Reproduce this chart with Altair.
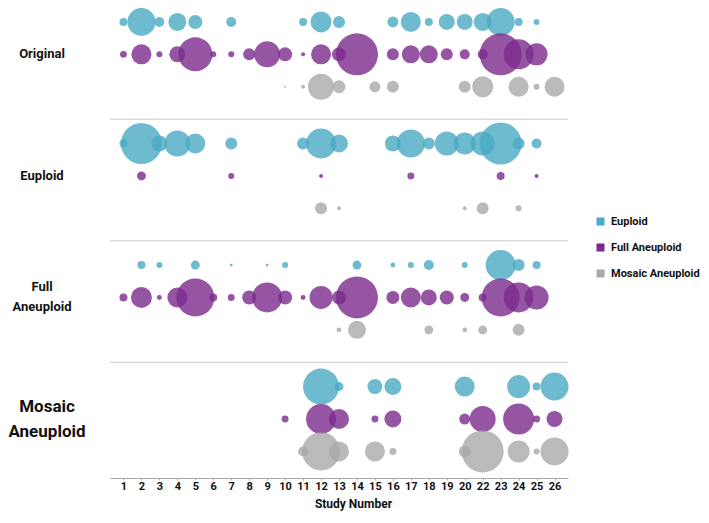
import altair as alt
import pandas as pd

study_labels = ["1", "2", "3", "4", "5", "6", "7", "8", "9", "10", "11", "12", "13",
                "14", "15", "16", "17", "18", "19", "20", "22", "23", "24", "25", "26"]
groups = ["Original", "Euploid", "Full Aneuploid", "Mosaic Aneuploid"]
group_text = ["Original", "Euploid", "Full\nAneuploid", "Mosaic\nAneuploid"]
series = ["Euploid", "Full Aneuploid", "Mosaic Aneuploid"]
colors = ["#4aaac4", "#7a2a8c", "#a9a9a9"]

# bubble magnitudes per study (aligned with study_labels), 0 = no bubble
orig_eu = [16, 196, 25, 81, 49, 0, 25, 0, 0, 0, 16, 110, 36, 0, 0, 30, 100, 16, 64, 64, 81, 196, 16, 9, 0]
orig_fa = [12, 100, 9, 64, 289, 9, 9, 36, 169, 49, 4, 100, 49, 441, 0, 36, 81, 81, 36, 25, 25, 441, 225, 121, 0]
orig_mo = [0, 0, 0, 0, 0, 0, 0, 0, 0, 1, 4, 169, 42, 0, 30, 36, 0, 0, 0, 36, 110, 0, 100, 9, 100]
eu_eu = [16, 420, 64, 169, 100, 0, 36, 0, 0, 0, 36, 225, 81, 0, 0, 64, 196, 36, 144, 121, 144, 441, 36, 25, 0]
eu_fa = [0, 20, 0, 0, 0, 0, 9, 0, 0, 0, 0, 4, 0, 0, 0, 0, 12, 0, 0, 0, 0, 16, 0, 4, 0]
eu_mo = [0, 0, 0, 0, 0, 0, 0, 0, 0, 0, 0, 36, 4, 0, 0, 0, 0, 0, 0, 4, 36, 0, 9, 0, 0]
fa_eu = [0, 16, 9, 0, 20, 0, 2, 0, 2, 9, 0, 0, 0, 20, 0, 6, 9, 25, 0, 9, 0, 225, 36, 16, 0]
fa_fa = [16, 110, 6, 100, 361, 16, 12, 49, 225, 49, 6, 132, 49, 441, 0, 42, 100, 64, 49, 20, 16, 361, 225, 144, 0]
fa_mo = [0, 0, 0, 0, 0, 0, 0, 0, 0, 0, 0, 0, 6, 81, 0, 0, 0, 20, 0, 6, 20, 0, 36, 0, 0]
mo_eu = [0, 0, 0, 0, 0, 0, 0, 0, 0, 0, 0, 324, 20, 0, 56, 72, 0, 0, 0, 100, 0, 0, 132, 16, 196]
mo_fa = [0, 0, 0, 0, 0, 0, 0, 0, 0, 12, 0, 225, 100, 0, 12, 72, 0, 0, 0, 30, 169, 0, 240, 12, 64]
mo_mo = [0, 0, 0, 0, 0, 0, 0, 0, 0, 0, 25, 361, 100, 0, 100, 12, 0, 0, 0, 36, 441, 0, 121, 9, 196]

table = [
    [orig_eu, orig_fa, orig_mo],
    [eu_eu, eu_fa, eu_mo],
    [fa_eu, fa_fa, fa_mo],
    [mo_eu, mo_fa, mo_mo],
]

GAP = 3.75  # row units per group
rows = []
for g, grp in enumerate(groups):
    for k, ser in enumerate(series):
        for lab, v in zip(study_labels, table[g][k]):
            if v > 0:
                rows.append({"group": grp, "series": ser, "study": lab,
                             "value": v, "u": g * GAP + k})
df = pd.DataFrame(rows)

label_df = pd.DataFrame({"label": group_text,
                         "u": [g * GAP + 1 for g in range(len(groups))],
                         "idx": list(range(len(groups)))})
sep_df = pd.DataFrame({"u": [g * GAP - 0.75 for g in range(1, len(groups))]})

FONT = "Roboto"
W, H = 458, 470
yscale = alt.Scale(domain=[-0.43, 14.07], reverse=True, nice=False, zero=False)

bubbles = alt.Chart(df).mark_circle(opacity=0.8, stroke=None).encode(
    x=alt.X("study:O", sort=study_labels,
            scale=alt.Scale(type="point", domain=study_labels, padding=0.75),
            axis=alt.Axis(title="Study Number", labelAngle=0, labelFont=FONT,
                          labelFontSize=11, labelFontWeight="bold", labelColor="#111",
                          labelPadding=0, tickSize=2, tickColor="#aaa",
                          domainColor="#aaa", domainWidth=1,
                          titleFont=FONT, titleFontSize=12, titleFontWeight="bold",
                          titleColor="#111", titleX=243, titleY=25,
                          titleBaseline="middle", titleAlign="center", grid=False)),
    y=alt.Y("u:Q", scale=yscale, axis=None),
    size=alt.Size("value:Q", scale=alt.Scale(domain=[0, 441], range=[0, 1764]), legend=None),
    color=alt.Color("series:N", scale=alt.Scale(domain=series, range=colors),
                    legend=alt.Legend(title=None, orient="none", legendX=485, legendY=208,
                                      symbolType="square", symbolSize=64, symbolOpacity=1,
                                      symbolStrokeWidth=0,
                                      labelFont=FONT, labelFontSize=11, labelFontWeight="bold",
                                      labelColor="#111", labelOffset=5, rowPadding=14,
                                      labelLimit=200, padding=0)),
)

seps = alt.Chart(sep_df).mark_rule(color="#dcdcdc", strokeWidth=1.5).encode(
    y=alt.Y("u:Q", scale=yscale, axis=None),
    x=alt.value(0), x2=alt.value(W),
)

labels_one = alt.Chart(label_df).transform_filter("datum.idx < 2").mark_text(
    font=FONT, fontSize=13, fontWeight="bold", color="#111",
    align="center", baseline="middle",
).encode(y=alt.Y("u:Q", scale=yscale, axis=None), x=alt.value(-68), text="label:N")

labels_full = alt.Chart(label_df).transform_filter("datum.idx == 2").mark_text(
    font=FONT, fontSize=13, fontWeight="bold", color="#111", lineBreak="\n",
    align="center", baseline="middle", lineHeight=20, dy=-10,
).encode(y=alt.Y("u:Q", scale=yscale, axis=None), x=alt.value(-68), text="label:N")

labels_big = alt.Chart(label_df).transform_filter("datum.idx == 3").mark_text(
    font=FONT, fontSize=17, fontWeight="bold", color="#111", lineBreak="\n",
    align="center", baseline="middle", lineHeight=25, dy=-12,
).encode(y=alt.Y("u:Q", scale=yscale, axis=None), x=alt.value(-63), text="label:N")

chart = alt.layer(seps, bubbles, labels_one, labels_full, labels_big).properties(
    width=W, height=H,
    padding={"left": 102, "top": 0, "right": 133, "bottom": 33},
    autosize=alt.AutoSizeParams(type="none"),
).configure_view(stroke=None)

chart.save("out.html", embed_options={"renderer": "svg", "actions": False})
